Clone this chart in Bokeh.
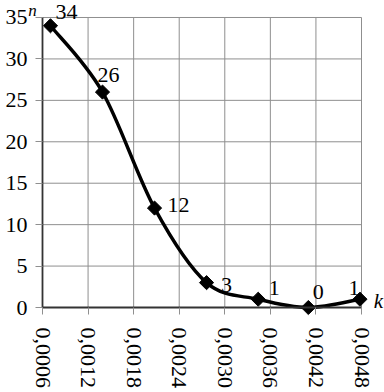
import numpy as np
from bokeh.plotting import figure
from bokeh.models import (ColumnDataSource, LabelSet, Label, FixedTicker, Range1d)
from bokeh.core.properties import value
from bokeh.embed import file_html
from bokeh.resources import INLINE

# ---- data ----
k_values = [0.000705, 0.00139, 0.002075, 0.00276, 0.00344, 0.0041, 0.00478]
n_values = [34, 26, 12, 3, 1, 0, 1]
x_ticks = [0.0006, 0.0012, 0.0018, 0.0024, 0.0030, 0.0036, 0.0042, 0.0048]
x_tick_labels = ["0,0006", "0,0012", "0,0018", "0,0024", "0,0030", "0,0036", "0,0042", "0,0048"]
y_ticks = [0, 5, 10, 15, 20, 25, 30, 35]
y_tick_labels = ["0", "5", "10", "15", "20", "25", "30", "35"]

# ---- label placement (screen px, style only) ----
label_dx = [16, 6, 24, 20, 16, 10, -6]
label_dy = [14, 17, 3, -2, 11, 16, 11]

FONT = "Liberation Serif"
# the frame fills the whole canvas; the axes sit inside it at fixed locations
X_LO, X_HI = 0.0000470, 0.0051028
Y_LO, Y_HI = -10.2586, 37.0517

p = figure(width=384, height=392, output_backend="svg", toolbar_location=None,
           x_range=Range1d(X_LO, X_HI), y_range=Range1d(Y_LO, Y_HI),
           min_border=0)
p.outline_line_color = None
p.xgrid.visible = False
p.ygrid.visible = False
p.background_fill_color = "white"
p.border_fill_color = "white"

GRID = "#8f8f8f"
gx = x_ticks[1:]
p.segment(x0=gx, y0=[y_ticks[0]] * len(gx), x1=gx, y1=[y_ticks[-1]] * len(gx),
          line_color=GRID, line_width=1)
gy = y_ticks[1:]
p.segment(x0=[x_ticks[0]] * len(gy), y0=gy, x1=[x_ticks[-1]] * len(gy), y1=gy,
          line_color=GRID, line_width=1)

# smoothed line (Catmull-Rom style Bezier through the data points)
P = np.column_stack([k_values, n_values]).astype(float)
ext = np.vstack([P[0], P, P[-1]])
x0, y0, x1, y1, cx0, cy0, cx1, cy1 = [], [], [], [], [], [], [], []
for i in range(len(P) - 1):
    pm, a, b, pn = ext[i], ext[i + 1], ext[i + 2], ext[i + 3]
    c0 = a + (b - pm) / 6.0
    c1 = b - (pn - a) / 6.0
    x0.append(a[0]); y0.append(a[1]); x1.append(b[0]); y1.append(b[1])
    cx0.append(c0[0]); cy0.append(c0[1]); cx1.append(c1[0]); cy1.append(c1[1])

# axes (drawn at n = 0 and k = 0.0006)
xa = p.xaxis[0]
xa.fixed_location = y_ticks[0]
xa.bounds = (x_ticks[0], x_ticks[-1])
xa.ticker = FixedTicker(ticks=x_ticks)
xa.major_label_overrides = {t: s for t, s in zip(x_ticks, x_tick_labels)}
xa.major_label_orientation = "vertical"
xa.major_label_text_font = FONT
xa.major_label_text_font_size = "22px"
xa.major_label_text_color = "black"
xa.major_label_standoff = 13
xa.major_tick_out = 7
xa.major_tick_in = 0
xa.major_tick_line_color = GRID
xa.minor_tick_line_color = None
xa.axis_line_color = "#333333"
xa.axis_line_width = 1.8

ya = p.yaxis[0]
ya.fixed_location = x_ticks[0]
ya.bounds = (y_ticks[0], y_ticks[-1])
ya.ticker = FixedTicker(ticks=y_ticks)
ya.major_label_overrides = {t: s for t, s in zip(y_ticks, y_tick_labels)}
ya.major_label_text_font = FONT
ya.major_label_text_font_size = "22px"
ya.major_label_text_color = "black"
ya.major_label_standoff = 8
ya.major_tick_out = 7
ya.major_tick_in = 0
ya.minor_tick_line_color = None
ya.major_tick_line_color = GRID
ya.axis_line_color = "#333333"
ya.axis_line_width = 1.8

p.bezier(x0=x0, y0=y0, x1=x1, y1=y1, cx0=cx0, cy0=cy0, cx1=cx1, cy1=cy1,
         line_color="black", line_width=3.4, line_cap="round")

src = ColumnDataSource(dict(k=k_values, n=n_values, txt=[str(v) for v in n_values],
                            dx=label_dx, dy=label_dy))
p.scatter("k", "n", source=src, marker="square", size=10, angle=np.pi / 4,
          fill_color="black", line_color="black")

labels = LabelSet(x="k", y="n", text="txt", source=src, x_offset="dx", y_offset="dy",
                  text_align="center", text_baseline="middle",
                  text_font=value(FONT), text_font_size="22px", text_color="black")
p.add_layout(labels)

# axis names
p.add_layout(Label(x=x_ticks[0], y=y_ticks[-1], text="n", x_offset=-10, y_offset=7,
                   text_align="center", text_baseline="middle", text_font=FONT,
                   text_font_style="italic", text_font_size="17px", text_color="black"))
p.add_layout(Label(x=x_ticks[-1], y=y_ticks[0], text="k", x_offset=17, y_offset=7,
                   text_align="center", text_baseline="middle", text_font=FONT,
                   text_font_style="italic", text_font_size="21px", text_color="black"))

open("out.html", "w").write(file_html(p, INLINE))
